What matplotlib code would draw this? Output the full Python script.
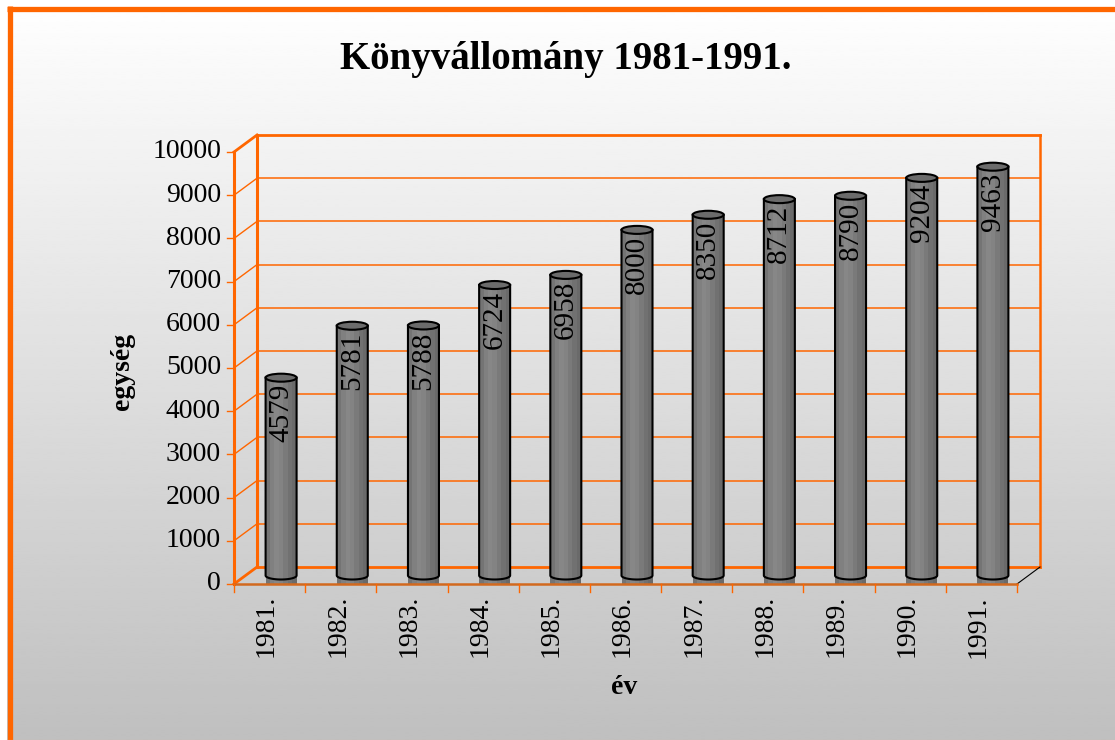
import numpy as np
import matplotlib
matplotlib.use('Agg')
import matplotlib.pyplot as plt
from matplotlib.patches import Rectangle, Ellipse, Polygon
from matplotlib.lines import Line2D

# ---------------- data ----------------
years = ['1981.', '1982.', '1983.', '1984.', '1985.', '1986.',
         '1987.', '1988.', '1989.', '1990.', '1991.']
values = [4579, 5781, 5788, 6724, 6958, 8000, 8350, 8712, 8790, 9204, 9463]
y_ticks = list(range(0, 10001, 1000))
title = 'Könyvállomány 1981-1991.'
xlabel = 'év'
ylabel = 'egység'

FONT = ['Liberation Serif', 'DejaVu Serif']
ORANGE = '#FF6600'

W, H = 1115, 740
fig = plt.figure(figsize=(W / 100, H / 100), dpi=100)

# ---------------- background gradient ----------------
bg = fig.add_axes([0, 0, 1, 1])
bg.axis('off')
grad = np.linspace(1.0, 0.75, 256)[:, None]
bg.imshow(grad, cmap='gray', vmin=0, vmax=1, aspect='auto',
          extent=[0, 1, 0, 1], interpolation='bilinear')
bg.set_xlim(0, 1)
bg.set_ylim(0, 1)
# white margin outside the frame
fig.add_artist(Rectangle((0, 0), 7 / W, 1, transform=fig.transFigure,
                         facecolor='white', edgecolor='none'))
fig.add_artist(Rectangle((0, 1 - 6 / H), 1, 6 / H, transform=fig.transFigure,
                         facecolor='white', edgecolor='none'))

# orange frame (left + top visible)
fig.add_artist(Line2D([9.5 / W, 9.5 / W], [0, 1 - 6 / H], transform=fig.transFigure,
                      color=ORANGE, lw=3.8, solid_capstyle='butt'))
fig.add_artist(Line2D([7 / W, 1], [1 - 8.5 / H, 1 - 8.5 / H], transform=fig.transFigure,
                      color=ORANGE, lw=3.8, solid_capstyle='butt'))
fig.add_artist(Line2D([7 / W, 1], [0.5 / H, 0.5 / H], transform=fig.transFigure,
                      color='#e8b89a', lw=0.8))

# ---------------- chart axes (front plane coordinates) ----------------
px_left, px_right, px_top, px_bottom = 234, 1040, 134, 584
ax = fig.add_axes([px_left / W, 1 - px_bottom / H,
                   (px_right - px_left) / W, (px_bottom - px_top) / H])
ax.axis('off')
n = len(values)
cat_px = 783 / n
val_px = 432 / 10000
ax.set_xlim(0, (px_right - px_left) / cat_px)
ax.set_ylim(0, (px_bottom - px_top) / val_px)
DX = 23 / cat_px
DY = 17 / val_px


def px_x(p):
    return p / cat_px


def px_y(p):
    return p / val_px


def line(xs, ys, **kw):
    ax.add_line(Line2D(xs, ys, clip_on=False, **kw))


ymax = y_ticks[-1]
# back wall gridlines
for v in y_ticks:
    edge = v in (0, ymax)
    line([DX, n + DX], [v + DY, v + DY], color=ORANGE,
         lw=2.0 if edge else 1.1, zorder=1)
    line([0, DX], [v, v + DY], color=ORANGE,
         lw=2.0 if edge else 1.0, zorder=1)
    line([-px_x(7), 0], [v, v], color=ORANGE, lw=1.0, zorder=1)
# back wall edges
line([DX, DX], [DY, ymax + DY], color=ORANGE, lw=2.2, zorder=1)
line([n + DX, n + DX], [DY, ymax + DY], color=ORANGE, lw=1.8, zorder=1)
# front value axis
line([0, 0], [0, ymax], color=ORANGE, lw=2.2, zorder=1)
# front category axis
line([0, n], [0, 0], color='#D2691E', lw=1.8, zorder=4)
line([n, n + DX], [0, DY], color='black', lw=0.8, zorder=1)
for i in range(n + 1):
    line([i, i], [0, -px_y(8)], color=ORANGE, lw=1.0, zorder=4)

# y tick labels
for v in y_ticks:
    ax.text(-px_x(13), v, str(v), ha='right', va='center', fontsize=20,
            family=FONT, color='black', clip_on=False)

# x tick labels
for i, lab in enumerate(years):
    ax.text(i + 0.5 - px_x(3), -px_y(11), lab, rotation=90, ha='center', va='top',
            fontsize=20, family=FONT, color='black', clip_on=False)

# ---------------- cylinders ----------------
bw = px_x(31)
eh = px_y(8)
base = DY / 2
shades = ['#747474', '#808080', '#878787', '#838383', '#7a7a7a', '#717171', '#6a6a6a']
t = np.linspace(np.pi, 2 * np.pi, 40)
for i, v in enumerate(values):
    cx = i + 0.5 + DX / 2
    top = v + base
    x0, x1 = cx - bw / 2, cx + bw / 2
    bottom_arc = np.column_stack([cx + bw / 2 * np.cos(t), base + eh / 2 * np.sin(t)])
    outline = np.vstack([[[x0, top]], bottom_arc, [[x1, top]]])
    body = Polygon(outline, closed=True, facecolor='#7c7c7c', edgecolor='none',
                   zorder=3, clip_on=False)
    ax.add_patch(body)
    sw = bw / len(shades)
    for k, c in enumerate(shades):
        r = Rectangle((x0 + k * sw, base - eh), sw * 1.02, top - base + eh,
                      facecolor=c, edgecolor='none', zorder=3, clip_on=False)
        ax.add_patch(r)
        r.set_clip_path(body)
    ax.add_line(Line2D(outline[:, 0], outline[:, 1], color='black', lw=1.5,
                       zorder=3.5, clip_on=False, solid_joinstyle='round'))
    ax.add_patch(Ellipse((cx, top), bw, eh, facecolor='#6b6b6b', edgecolor='black',
                         lw=1.5, zorder=3.6, clip_on=False))
    ax.text(cx, top - px_y(6), str(v), rotation=90, ha='center', va='top',
            fontsize=21, family=FONT, color='black', zorder=5, clip_on=False)

# ---------------- titles ----------------
fig.text(566 / W, 1 - 69 / H, title, ha='center', va='baseline', fontsize=28,
         fontweight='bold', family=FONT)
fig.text(122 / W, 1 - 371 / H, ylabel, rotation=90, ha='center', va='center',
         fontsize=20, fontweight='bold', family=FONT)
fig.text(624 / W, 1 - 688 / H, xlabel, ha='center', va='center',
         fontsize=20, fontweight='bold', family=FONT)

fig.savefig('out.png', dpi=100)
